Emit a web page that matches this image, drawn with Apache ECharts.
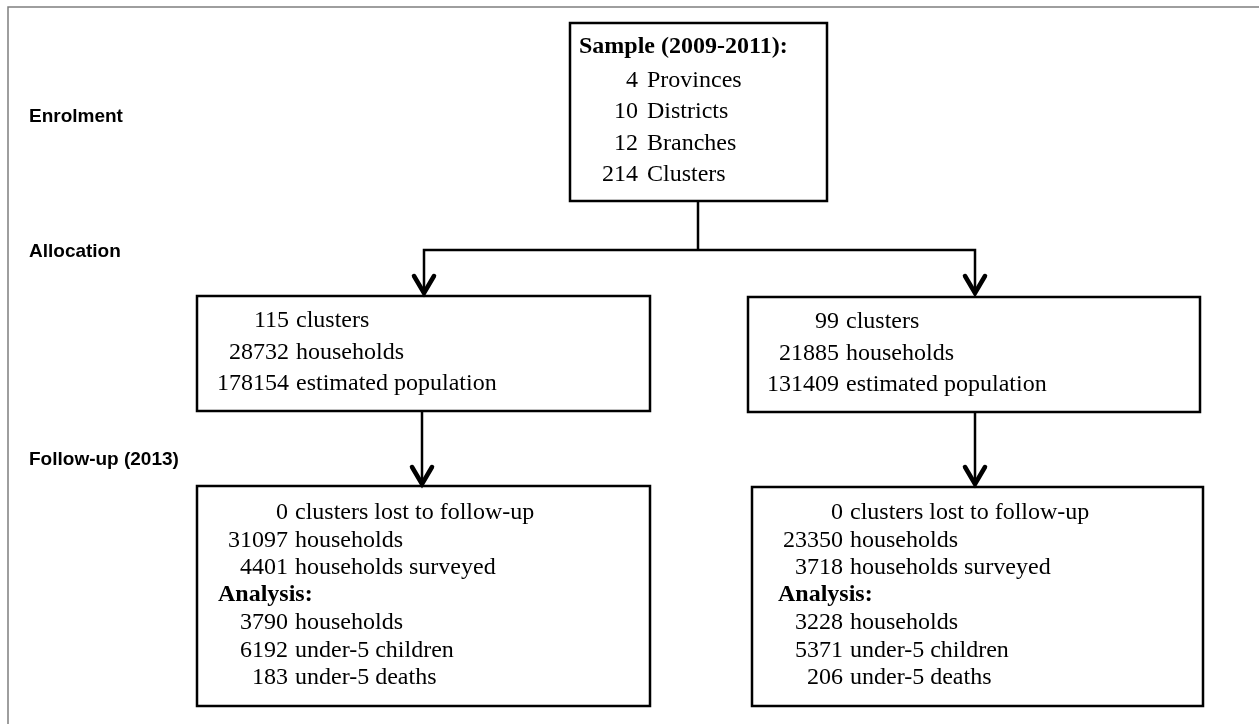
<!DOCTYPE html>
<html>
<head>
<meta charset="utf-8">
<script src="https://cdn.jsdelivr.net/npm/echarts@6/dist/echarts.min.js"></script>
<style>
html, body { margin: 0; padding: 0; background: #fff; }
#chart { width: 1259px; height: 724px; }
</style>
</head>
<body>
<div id="chart"></div>
<script>
// stage labels down the left side
const stageLabels = ['Enrolment', 'Allocation', 'Follow-up (2013)']

// enrolment box
const sampleTitle = 'Sample (2009-2011):'
const sampleCounts = [4, 10, 12, 214]
const sampleUnits = ['Provinces', 'Districts', 'Branches', 'Clusters']

// allocation boxes
const allocUnits = ['clusters', 'households', 'estimated population']
const allocLeft = [115, 28732, 178154]
const allocRight = [99, 21885, 131409]

// follow-up boxes
const followUnits = ['clusters lost to follow-up', 'households', 'households surveyed']
const followLeft = [0, 31097, 4401]
const followRight = [0, 23350, 3718]

const analysisTitle = 'Analysis:'
const analysisUnits = ['households', 'under-5 children', 'under-5 deaths']
const analysisLeft = [3790, 6192, 183]
const analysisRight = [3228, 5371, 206]

const SERIF = '"Liberation Serif", "Times New Roman", serif'
const SANS = '"Liberation Sans", Arial, sans-serif'

const chart = echarts.init(document.getElementById('chart'))

// plain text element
const txt = (text, x, y, o = {}) => ({
  type: 'text',
  z: 10,
  style: {
    text: String(text),
    x, y,
    fill: '#000',
    font: (o.bold ? 'bold ' : '') + (o.size || 24) + 'px ' + (o.family || SERIF),
    textAlign: o.align || 'left',
    textVerticalAlign: 'middle'
  }
})

// number column right aligned, unit column left aligned
const rows = (nums, units, numRight, y0, step, gap = 7) => {
  const out = []
  nums.forEach((n, i) => {
    out.push(txt(n, numRight, y0 + i * step, { align: 'right' }))
    out.push(txt(units[i], numRight + gap, y0 + i * step))
  })
  return out
}

const box = (x, y, w, h) => ({
  type: 'rect',
  z: 5,
  shape: { x, y, width: w, height: h },
  style: { fill: '#fff', stroke: '#000', lineWidth: 2.5 }
})

const line = (pts, w = 2.5, color = '#000') => ({
  type: 'polyline',
  z: 4,
  shape: { points: pts },
  style: { fill: null, stroke: color, lineWidth: w }
})

// open chevron arrow head, tip at (x, y)
const head = (x, y) => ({
  type: 'polyline',
  z: 6,
  shape: { points: [[x - 10, y - 17], [x, y], [x + 10, y - 17]] },
  style: { fill: null, stroke: '#000', lineWidth: 4.5, lineJoin: 'miter', lineCap: 'round' }
})

const labelOpt = { bold: true, size: 19, family: SANS }

const elements = [
  // outer frame (left and top edges only)
  line([[8, 724], [8, 7], [1259, 7]], 1.5, '#7f7f7f'),

  // stage labels
  txt(stageLabels[0], 29, 117, labelOpt),
  txt(stageLabels[1], 29, 252, labelOpt),
  txt(stageLabels[2], 29, 460, labelOpt),

  // boxes
  box(570, 23, 257, 178),
  box(197, 296, 453, 115),
  box(748, 297, 452, 115),
  box(197, 486, 453, 220),
  box(752, 487, 451, 219),

  // connectors
  line([[698, 201], [698, 250]]),
  line([[424, 292], [424, 250], [975, 250], [975, 292]]),
  head(424, 293),
  head(975, 293),
  line([[422, 411], [422, 482]]),
  head(422, 484),
  line([[975, 412], [975, 482]]),
  head(975, 484),

  // enrolment text
  txt(sampleTitle, 579, 47, { bold: true }),
  ...rows(sampleCounts, sampleUnits, 638, 81, 31.2, 9),

  // allocation text
  ...rows(allocLeft, allocUnits, 289, 321, 31.5),
  ...rows(allocRight, allocUnits, 839, 322, 31.5),

  // follow-up text
  ...rows(followLeft, followUnits, 288, 513, 27.5),
  txt(analysisTitle, 218, 595, { bold: true }),
  ...rows(analysisLeft, analysisUnits, 288, 623, 27.5),

  ...rows(followRight, followUnits, 843, 513, 27.5),
  txt(analysisTitle, 778, 595, { bold: true }),
  ...rows(analysisRight, analysisUnits, 843, 623, 27.5)
]

chart.setOption({
  backgroundColor: '#fff',
  animation: false,
  graphic: { elements }
})

window.addEventListener('resize', () => chart.resize())
</script>
</body>
</html>
